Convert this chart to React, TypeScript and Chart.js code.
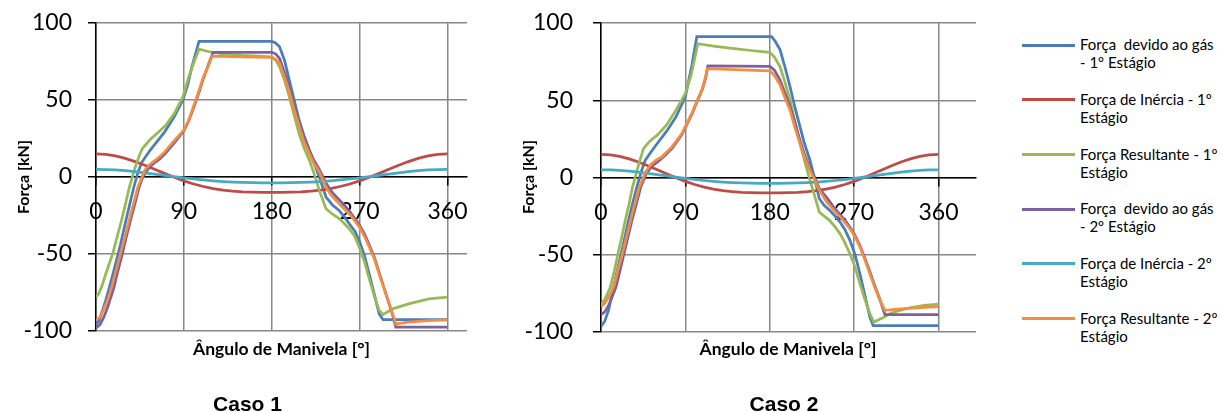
import React, { useEffect, useRef } from "react";
import { Chart, registerables } from "chart.js";

Chart.register(...registerables);

// ---------- data ----------
type P = [number, number];

const xTicks = [0, 90, 180, 270, 360];
const yTicks = [-100, -50, 0, 50, 100];

const inerciaAngles = [
  0, 10, 20, 30, 40, 50, 60, 70, 80, 90, 100, 110, 120, 130, 140, 150, 160, 170, 180,
  190, 200, 210, 220, 230, 240, 250, 260, 270, 280, 290, 300, 310, 320, 330, 340, 350, 360,
];
const inercia1Values = [
  15.0, 14.66, 13.66, 12.08, 10.01, 7.6, 5.0, 2.36, -0.18, -2.5, -4.52, -6.19, -7.5, -8.47, -9.14, -9.58, -9.83, -9.96, -10.0,
  -9.96, -9.83, -9.58, -9.14, -8.47, -7.5, -6.19, -4.52, -2.5, -0.18, 2.36, 5.0, 7.6, 10.01, 12.08, 13.66, 14.66, 15.0,
];
const inercia2Values = [
  4.97, 4.87, 4.57, 4.1, 3.47, 2.73, 1.91, 1.07, 0.23, -0.57, -1.3, -1.94, -2.49, -2.93, -3.27, -3.52, -3.7, -3.8, -3.83,
  -3.8, -3.7, -3.52, -3.27, -2.93, -2.49, -1.94, -1.3, -0.57, 0.23, 1.07, 1.91, 2.73, 3.47, 4.1, 4.57, 4.87, 4.97,
];

// Caso 1
const c1Gas1: P[] = [
  [0, -96], [3, -93.5], [7, -86], [10, -80], [14, -71], [20, -56.5], [25, -44], [30, -30], [35, -16.5], [39, -6],
  [43, 3], [46.7, 9.4], [55, 17], [60, 21], [70, 29], [80, 39], [89, 50], [94, 60], [98, 71], [105.5, 88], [180, 88],
  [184, 87], [188, 84.5], [193, 76], [198, 63], [203, 50], [208, 37], [213, 27], [218.5, 17.4], [223, 9.5], [228.7, 0],
  [235.6, -13], [242, -18], [249, -21.7], [254, -25.5], [259.3, -30.3], [265, -35], [269.6, -41.2], [275, -51],
  [279.8, -62.9], [285, -76], [290, -88.9], [294, -92.6], [360, -92.6],
];
const c1Res1: P[] = [
  [0, -78], [3, -75.5], [6, -71], [10, -63], [14, -55.5], [17, -50], [22, -38], [26, -28.5], [30, -18], [34, -7],
  [40, 6], [45, 15], [47.5, 18.5], [55, 24], [62, 28], [72, 34], [80, 41], [89, 52], [95, 65], [100, 74], [105.5, 83],
  [115, 81.5], [130, 80], [150, 79], [180, 78], [184, 76], [188, 71.6], [193, 63], [198, 52], [203, 40], [208, 28.2],
  [213, 19], [218.5, 10.9], [223, 3], [228.7, -8.7], [235.6, -20.6], [242, -24], [249, -27], [254, -30], [259.3, -33.6],
  [265, -38.5], [269.6, -45.5], [275, -55], [279.8, -66], [285, -77], [290, -86.7], [294, -89.3], [304, -85.6],
  [320, -82.4], [341, -79.1], [360, -78],
];
const c1Gas2: P[] = [
  [0, -98], [4, -96], [8, -91], [12, -84.5], [15, -78.5], [18.4, -71.6], [22, -62], [27, -50], [31, -39], [35.4, -28],
  [40, -17], [44.2, -6.5], [48, 0], [52, 4], [55, 6.5], [59.5, 9], [65, 11.5], [70, 14.5], [80, 22], [90, 30],
  [95, 36.5], [100, 45], [106, 56], [110, 64], [116, 74.5], [120, 81], [180, 81], [184, 80], [188, 77], [193, 68],
  [198, 58], [203, 46], [208, 35], [213, 26], [218.5, 17.5], [223, 11], [228.7, 5], [235.6, -4], [242, -10],
  [248.5, -14.5], [254, -18], [259.3, -22], [264, -26], [269.6, -31], [275, -37], [279.8, -44], [285, -52], [290, -62],
  [295, -72], [300, -82], [304, -90], [307, -97.5], [360, -97.5],
];
const c1Res2: P[] = [
  [0, -93], [4, -91], [8, -86], [12, -79.5], [16, -71.5], [20, -62], [25, -50], [30, -38], [34, -28], [39, -16],
  [43, -6.5], [47, 0], [50, 4.4], [54, 7.5], [58.5, 9.8], [63, 12], [68.8, 15.2], [79, 22.8], [90, 30.5], [95, 37],
  [100, 46], [106, 57], [110, 65], [114.7, 71.6], [119, 78.5], [150, 78], [180, 77.6], [184, 76.3], [188, 73.8],
  [193, 65], [198, 55.3], [203, 43.5], [208.3, 32.5], [213, 23], [218.5, 15.2], [223, 9], [228.7, 3.3], [235.6, -6.5],
  [241, -12], [247.5, -16.3], [253, -20], [259.3, -23.8], [264, -27.5], [269.6, -32.5], [275, -38.5], [279.8, -45.5],
  [285, -53], [290, -62.9], [295, -72.5], [300.3, -82.4], [304, -89], [307, -95.4], [320, -94.3], [340, -93.3],
  [360, -92.8],
];

// Caso 2
const c2Gas1: P[] = [
  [0, -96.4], [4, -93], [8, -86], [13.4, -71], [17, -61], [21.6, -49.3], [25, -40], [29.4, -27.7], [34, -16],
  [38.3, -6.1], [43, 4], [47.2, 11.2], [55, 18], [60, 22], [70, 30], [80, 39.3], [90, 52.3], [97, 73], [102.2, 91.2],
  [182, 91.2], [186, 88], [191, 82.6], [196, 72], [201.6, 58.8], [207, 45], [212.3, 32.8], [217, 22], [222.9, 11.2],
  [228, -1], [232.8, -13.6], [238, -18], [243.8, -21.2], [249, -24.5], [254.9, -28.8], [260, -33.5], [265.5, -40.7],
  [271, -50], [276.2, -62.3], [281, -75], [286.8, -90.4], [290.3, -95.8], [360, -95.8],
];
const c2Res1: P[] = [
  [0, -82.4], [4, -79], [9.9, -71], [14, -61], [18.1, -49.3], [22, -39], [25.9, -27.7], [30, -17], [33.7, -6.1],
  [40, 8], [45.4, 18.8], [52, 23.5], [60, 27.4], [70, 34], [80, 43.6], [90, 54.5], [96, 66], [103.3, 86.6], [120, 85],
  [140, 83.6], [160, 82.2], [180, 81], [185, 78], [191, 71.6], [196, 62], [201.6, 50.1], [207, 36], [212.3, 22],
  [217, 11], [222.9, -1.8], [228, -12], [232.8, -22.3], [238, -25], [243.8, -27.7], [249, -31.5], [254.9, -36.3],
  [260, -42], [265.5, -49.3], [271, -58], [276.2, -68.7], [281, -78], [286.8, -88.2], [291, -93.6], [300, -91],
  [308, -88.2], [320, -85.8], [329.4, -84.3], [345, -82.8], [360, -82],
];
const c2Gas2: P[] = [
  [0, -88.8], [4, -87], [8, -83], [12, -77], [16, -71], [20, -61], [24.5, -49.3], [29, -38], [33, -27.7], [38, -16.5],
  [42.5, -6], [48, 2], [53.5, 7], [60, 10], [66, 13], [76, 19], [86, 27.5], [97, 41], [102, 48.5], [108, 57],
  [111.5, 64], [114, 72.2], [180, 72], [185, 69.5], [191, 63], [196, 55], [201.6, 46], [207, 35], [212.3, 24],
  [217, 15], [222.9, 6], [228, 0], [232.8, -7], [242, -14], [248, -19], [254.9, -24], [260, -27.5], [265.5, -32],
  [271, -37.5], [276.2, -44], [281, -51.5], [286.8, -61], [292, -70], [297.5, -79], [302.8, -88.7], [360, -88.8],
];
const c2Res2: P[] = [
  [0, -83.5], [4, -81.5], [8, -77.5], [11, -74], [14, -70], [18, -60], [23, -49], [27, -39], [31.5, -28], [36, -17],
  [41, -6], [47, 3], [52.5, 8], [58, 11], [65, 13.4], [75.6, 19.8], [86.3, 28.5], [96.9, 41.5], [102, 49],
  [107.6, 56.6], [111, 64], [113.5, 70.5], [150, 69.6], [180, 69], [185, 66], [191, 59.9], [196, 52], [201.6, 43.6],
  [207, 32], [212.3, 22], [217, 13], [222.9, 4.7], [228, -2], [232.8, -8.2], [240.7, -15.8], [248, -21],
  [254.9, -25.5], [260, -29], [265.5, -33.1], [271, -38.5], [276.2, -45], [281, -52.5], [286.8, -62.3], [292, -71],
  [297.5, -79.6], [302.8, -86], [320, -85], [340, -84.2], [360, -83.5],
];

const seriesLabels: [string, string][] = [
  ["Força  devido ao gás", "- 1º Estágio"],
  ["Força de Inércia - 1º", "Estágio"],
  ["Força Resultante - 1º", "Estágio"],
  ["Força  devido ao gás", "- 2º Estágio"],
  ["Força de Inércia - 2º", "Estágio"],
  ["Força Resultante - 2º", "Estágio"],
];
const seriesColors = ["#4A7EBB", "#BE4B48", "#98B954", "#7D60A0", "#46AAC5", "#F38D3F"];

const caseTitles = ["Caso 1", "Caso 2"];
const xTitle = "Ângulo de Manivela [°]";
const yTitle = "Força [kN]";

const inercia1: P[] = inerciaAngles.map((a, i) => [a, inercia1Values[i]]);
const inercia2: P[] = inerciaAngles.map((a, i) => [a, inercia2Values[i]]);

const caso1Series: P[][] = [c1Gas1, inercia1, c1Res1, c1Gas2, inercia2, c1Res2];
const caso2Series: P[][] = [c2Gas1, inercia1, c2Res1, c2Gas2, inercia2, c2Res2];

// ---------- components ----------
const TICK_FONT = { family: "Lato", size: 23 };

interface ChartProps {
  series: P[][];
  left: number;
  xMax: number;
  yAxisWidth: number;
  padTop: number;
  padRight: number;
  padBottom: number;
  yTickPad: number;
}

function ForceChart({ series, left, xMax, yAxisWidth, padTop, padRight, padBottom, yTickPad }: ChartProps) {
  const ref = useRef<HTMLCanvasElement>(null);
  useEffect(() => {
    const chart = new Chart(ref.current!, {
      type: "scatter",
      data: {
        datasets: series.map((pts, i) => ({
          label: seriesLabels[i].join(" "),
          data: pts.map(([x, y]) => ({ x, y })),
          showLine: true,
          borderColor: seriesColors[i],
          backgroundColor: seriesColors[i],
          borderWidth: 2.75,
          pointRadius: 0,
          pointHoverRadius: 0,
          tension: 0,
          fill: false,
          order: series.length - 1 - i,
        })),
      },
      options: {
        responsive: false,
        animation: false,
        events: [],
        layout: { padding: { left: 0, top: padTop, right: padRight, bottom: padBottom } },
        plugins: { legend: { display: false }, tooltip: { enabled: false }, title: { display: false } },
        scales: {
          x: {
            type: "linear",
            min: 0,
            max: xMax,
            position: { y: 0 },
            afterBuildTicks: (s: any) => {
              s.ticks = xTicks.map((v) => ({ value: v }));
            },
            afterFit: (s: any) => {
              s.paddingLeft = 0;
              s.paddingRight = 0;
            },
            grid: { color: "#888888", lineWidth: 1.5, tickColor: "#000000", tickLength: 8 },
            border: { color: "#000000", width: 1.5 },
            ticks: {
              font: TICK_FONT,
              color: "#000000",
              padding: 13,
              maxRotation: 0,
              autoSkip: false,
              callback: (v: any) => String(v),
            },
          },
          y: {
            type: "linear",
            min: -100,
            max: 100,
            afterBuildTicks: (s: any) => {
              s.ticks = yTicks.map((v) => ({ value: v }));
            },
            afterFit: (s: any) => {
              s.width = yAxisWidth;
              s.paddingTop = 0;
              s.paddingBottom = 0;
            },
            grid: { color: "#888888", lineWidth: 1.5, tickColor: "#000000", tickLength: 8 },
            border: { color: "#000000", width: 1.5 },
            ticks: {
              font: TICK_FONT,
              color: "#000000",
              padding: yTickPad,
              callback: (v: any) => String(v),
            },
          },
        },
      } as any,
    });
    return () => chart.destroy();
  }, []);
  return (
    <canvas
      ref={ref}
      width={500}
      height={412}
      style={{ position: "absolute", left, top: 0, width: 500, height: 412 }}
    />
  );
}

const textBase: React.CSSProperties = { position: "absolute", whiteSpace: "pre", color: "#000" };

function Titles({ plotCenterX, yTitleX, caseCenterX, caseTitle }: { plotCenterX: number; yTitleX: number; caseCenterX: number; caseTitle: string }) {
  return (
    <>
      <div
        style={{
          ...textBase,
          left: plotCenterX - 150,
          top: 338,
          width: 300,
          height: 20,
          lineHeight: "20px",
          textAlign: "center",
          font: "bold 17.5px Lato",
        }}
      >
        {xTitle}
      </div>
      <div
        style={{
          ...textBase,
          left: yTitleX - 100,
          top: 177 - 10,
          width: 200,
          height: 20,
          lineHeight: "20px",
          textAlign: "center",
          font: "bold 16px Lato",
          transform: "rotate(-90deg)",
        }}
      >
        {yTitle}
      </div>
      <div
        style={{
          ...textBase,
          left: caseCenterX - 100,
          top: 392,
          width: 200,
          height: 24,
          lineHeight: "24px",
          textAlign: "center",
          font: "bold 21px 'Liberation Sans'",
        }}
      >
        {caseTitle}
      </div>
    </>
  );
}

function Legend() {
  return (
    <>
      {seriesLabels.map((lines, i) => (
        <React.Fragment key={i}>
          <div
            style={{
              position: "absolute",
              left: 1022,
              top: 45 + 54.7 * i - 1.5,
              width: 53,
              height: 3,
              background: seriesColors[i],
            }}
          />
          <div
            style={{
              ...textBase,
              left: 1080,
              top: 35.3 + 54.7 * i,
              lineHeight: "19.3px",
              font: "15px Lato",
              color: "#000",
            }}
          >
            {lines[0]}
            {"\n"}
            {lines[1]}
          </div>
        </React.Fragment>
      ))}
    </>
  );
}

export default function App() {
  return (
    <div
      style={{
        position: "absolute",
        left: 0,
        top: 0,
        width: 1222,
        height: 412,
        overflow: "hidden",
        background: "#ffffff",
      }}
    >
      <ForceChart series={caso1Series} left={0} xMax={380} yAxisWidth={96} padTop={23} padRight={33} padBottom={81} yTickPad={16} />
      <ForceChart series={caso2Series} left={500} xMax={400} yAxisWidth={101} padTop={23} padRight={24} padBottom={80} yTickPad={20} />
      <Titles plotCenterX={281.5} yTitleX={22.5} caseCenterX={247.5} caseTitle={caseTitles[0]} />
      <Titles plotCenterX={788} yTitleX={527.5} caseCenterX={784} caseTitle={caseTitles[1]} />
      <Legend />
    </div>
  );
}
